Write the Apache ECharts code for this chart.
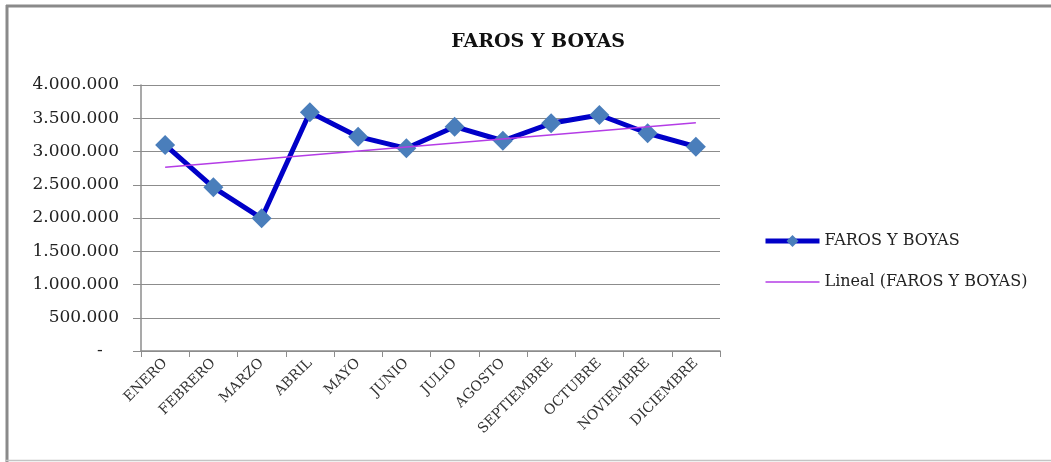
<!DOCTYPE html>
<html>
<head>
<meta charset="utf-8">
<script src="https://cdn.jsdelivr.net/npm/echarts@6/dist/echarts.min.js"></script>
<style>
  html, body { margin: 0; padding: 0; background: #fff; }
  #chart { width: 1051px; height: 462px; }
</style>
</head>
<body>
<div id="chart"></div>
<script>
// datos
var meses = ['ENERO', 'FEBRERO', 'MARZO', 'ABRIL', 'MAYO', 'JUNIO', 'JULIO',
    'AGOSTO', 'SEPTIEMBRE', 'OCTUBRE', 'NOVIEMBRE', 'DICIEMBRE'];
var farosBoyas = [3098000, 2462000, 1995000, 3589000, 3223000, 3048000,
    3373000, 3162000, 3424000, 3549000, 3274000, 3072000];
// extremos de la linea de tendencia (enero, diciembre)
var tendencia = [2764000, 3433000];

var fuente = 'DejaVu Serif';

function miles(v) {
    if (v === 0) return '-   ';
    return String(v).replace(/\B(?=(\d{3})+(?!\d))/g, '.');
}

var lineal = meses.map(function (m, i) {
    if (i === 0) return tendencia[0];
    if (i === meses.length - 1) return tendencia[1];
    return null;
});

var chart = echarts.init(document.getElementById('chart'));

var option = {
    animation: false,
    backgroundColor: '#fff',
    title: {
        text: 'FAROS Y BOYAS',
        left: 533,
        top: 28,
        textAlign: 'center',
        textStyle: { fontFamily: fuente, fontSize: 19, fontWeight: 'bold', color: '#111' }
    },
    graphic: [
        { type: 'line', shape: { x1: 6, y1: 6, x2: 1051, y2: 6 }, style: { stroke: '#8a8a8a', lineWidth: 3 } },
        { type: 'line', shape: { x1: 7, y1: 5, x2: 7, y2: 462 }, style: { stroke: '#8a8a8a', lineWidth: 3 } },
        { type: 'line', shape: { x1: 6, y1: 460.5, x2: 1051, y2: 460.5 }, style: { stroke: '#c4c4c4', lineWidth: 1.5 } }
    ],
    legend: {
        orient: 'vertical',
        left: 758,
        top: 228,
        itemWidth: 54,
        itemHeight: 15,
        itemGap: 25,
        textStyle: { fontFamily: fuente, fontSize: 16, color: '#222' },
        data: [
            { name: 'FAROS Y BOYAS', lineStyle: { width: 5 } },
            { name: 'Lineal (FAROS Y BOYAS)', itemStyle: { opacity: 0 }, lineStyle: { width: 1.5 } }
        ]
    },
    grid: { left: 141, right: 331, top: 85, bottom: 111 },
    xAxis: {
        type: 'category',
        data: meses,
        boundaryGap: true,
        axisLine: { lineStyle: { color: '#8c8c8c', width: 1.5 } },
        axisTick: { show: true, length: 6, interval: 0, lineStyle: { color: '#8c8c8c' } },
        axisLabel: {
            interval: 0,
            rotate: 45,
            margin: 10,
            fontFamily: fuente,
            fontSize: 14,
            color: '#333'
        }
    },
    yAxis: {
        type: 'value',
        min: 0,
        max: 4000000,
        interval: 500000,
        axisLine: { show: true, lineStyle: { color: '#8c8c8c', width: 1.5 } },
        axisTick: { show: true, length: 8, lineStyle: { color: '#8c8c8c' } },
        splitLine: { lineStyle: { color: '#8c8c8c', width: 1.2 } },
        axisLabel: {
            formatter: miles,
            margin: 22,
            fontFamily: fuente,
            fontSize: 17,
            color: '#222'
        }
    },
    series: [
        {
            name: 'FAROS Y BOYAS',
            type: 'line',
            data: farosBoyas,
            symbol: 'diamond',
            symbolSize: 20,
            lineStyle: { color: '#0000c8', width: 5 },
            itemStyle: { color: '#4a7ebb' },
            z: 3
        },
        {
            name: 'Lineal (FAROS Y BOYAS)',
            type: 'line',
            data: lineal,
            connectNulls: true,
            symbol: 'none',
            lineStyle: { color: '#b43ce6', width: 1.5 },
            itemStyle: { color: '#b43ce6' },
            z: 4
        }
    ]
};

chart.setOption(option);
</script>
</body>
</html>
